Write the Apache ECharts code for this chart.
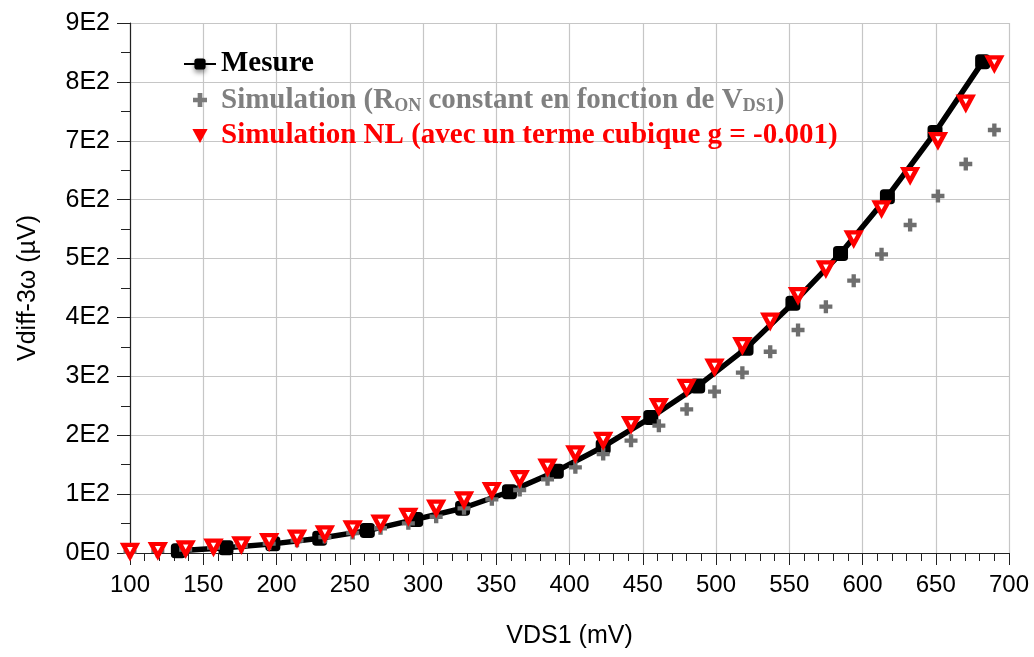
<!DOCTYPE html>
<html>
<head>
<meta charset="utf-8">
<script src="https://cdn.jsdelivr.net/npm/echarts@6/dist/echarts.min.js"></script>
<style>
  html, body { margin: 0; padding: 0; background: #ffffff; }
  #chart { width: 1034px; height: 657px; }
</style>
</head>
<body>
<div id="chart"></div>
<script>
// Measured third-harmonic differential voltage (µV) vs VDS1 (mV)
const mesureX = [133, 165.5, 197.5, 229.5, 262, 295, 327, 359, 391, 423, 455.5, 487.5, 520.5, 552.5, 585, 617, 649.5, 682];
const mesureY = [4, 9, 15.5, 25, 38, 57, 76, 104, 139, 180.5, 230, 283.5, 347.5, 424, 508.5, 605, 714, 834];

// Simulation sweep points (mV)
const simX = [100, 119, 138, 157, 176, 195, 214, 233, 252, 271, 290, 309, 328, 347, 366, 385,
              404, 423, 442, 461, 480, 499, 518, 537, 556, 575, 594, 613, 632.5, 651.5, 670.5, 690];
// Simulation with RON constant vs VDS1
const simRonY = [2, 3.5, 6, 9, 12, 16, 21, 27, 34, 42, 50.4, 61.6, 75.9, 91.2, 107, 125.1,
                 145.5, 168, 190.7, 216.2, 244, 273.9, 306.2, 341.8, 378.7, 418.3, 462.4, 507.2, 557, 606.2, 660.5, 718.3];
// Non-linear simulation (cubic term g = -0.001)
const simNLY = [3.6, 5.1, 8, 11, 14.7, 20, 26, 33.4, 41.9, 51.5, 63, 77, 91, 107, 127, 146.6,
                169.3, 192, 219, 249.6, 282, 316.4, 353, 394.5, 438, 483.4, 534.4, 585.3, 641.9, 701.3, 764.7, 831.5];

// Axis tick labels
const yTickLabels = ['0E0', '1E2', '2E2', '3E2', '4E2', '5E2', '6E2', '7E2', '8E2', '9E2'];
const xTickLabels = ['100', '150', '200', '250', '300', '350', '400', '450', '500', '550', '600', '650', '700'];

const zip = (xs, ys) => xs.map((x, i) => [x, ys[i]]);

const PLUS = 'path://M-1,-3H1V-1H3V1H1V3H-1V1H-3V-1H-1Z';
const TRI_DOWN = 'path://M0,0L12,0L6,10.4Z';

const chart = echarts.init(document.getElementById('chart'), null, { renderer: 'canvas' });

const axisFont = 'Liberation Sans, Arial, sans-serif';
const legendFont = 'Liberation Serif, Times New Roman, serif';

chart.setOption({
  animation: false,
  backgroundColor: '#ffffff',
  grid: { left: 130, right: 25, top: 23, bottom: 104, containLabel: false },
  xAxis: {
    type: 'value',
    min: 100, max: 700, interval: 50,
    name: 'VDS1 (mV)',
    nameLocation: 'middle',
    nameGap: 71,
    nameTextStyle: { fontFamily: axisFont, fontSize: 25, color: '#000' },
    axisLine: { show: true, onZero: false, lineStyle: { color: '#222', width: 1.2 } },
    axisTick: { show: true, inside: false, length: 12, lineStyle: { color: '#222' } },
    minorTick: { show: true, splitNumber: 5, length: 8, lineStyle: { color: '#222' } },
    axisLabel: {
      margin: 20, fontFamily: axisFont, fontSize: 24, color: '#000',
      formatter: v => xTickLabels[Math.round((v - 100) / 50)]
    },
    splitLine: { show: true, lineStyle: { color: '#c6c6c6', width: 1.2 } }
  },
  yAxis: {
    type: 'value',
    min: 0, max: 900, interval: 100,
    name: 'Vdiff-3ω (µV)',
    nameLocation: 'middle',
    nameGap: 89,
    nameTextStyle: { fontFamily: axisFont, fontSize: 25, color: '#000' },
    axisLine: { show: true, onZero: false, lineStyle: { color: '#222', width: 1.2 } },
    axisTick: { show: true, inside: false, length: 13, lineStyle: { color: '#222' } },
    minorTick: { show: true, splitNumber: 2, length: 9, lineStyle: { color: '#222' } },
    axisLabel: {
      margin: 20, fontFamily: axisFont, fontSize: 25, color: '#000',
      formatter: v => yTickLabels[Math.round(v / 100)]
    },
    splitLine: { show: true, lineStyle: { color: '#c6c6c6', width: 1.2 } }
  },
  legend: {
    orient: 'vertical',
    left: 178, top: 44,
    itemGap: 6,
    itemWidth: 32, itemHeight: 14,
    textStyle: {
      fontFamily: legendFont, fontSize: 29, fontWeight: 'bold', lineHeight: 30,
      rich: {
        g: { fontFamily: legendFont, fontSize: 29, fontWeight: 'bold', color: '#808080', lineHeight: 30, verticalAlign: 'bottom' },
        gs: { fontFamily: legendFont, fontSize: 18, fontWeight: 'bold', color: '#808080', lineHeight: 17, verticalAlign: 'bottom' }
      }
    },
    formatter: name => {
      if (name === 'simRon') {
        return '{g|Simulation (R}{gs|ON}{g| constant en fonction de V}{gs|DS1}{g|)}';
      }
      return name;
    },
    data: [
      { name: 'Mesure', textStyle: { color: '#000000' },
        itemStyle: { shadowBlur: 5, shadowColor: 'rgba(0,0,0,0.45)', shadowOffsetY: 3 } },
      { name: 'simRon', icon: PLUS, itemStyle: { color: '#7a7a7a' } },
      { name: 'Simulation NL (avec un terme cubique g = -0.001)', icon: 'path://M0,0L12,0L6,11Z',
        textStyle: { color: '#ff0000' }, itemStyle: { color: '#ff0000', borderWidth: 0 } }
    ]
  },
  series: [
    {
      name: 'Mesure',
      type: 'line',
      data: zip(mesureX, mesureY),
      symbol: 'roundRect',
      symbolSize: 15,
      showAllSymbol: true,
      lineStyle: { color: '#000', width: 5.5 },
      itemStyle: { color: '#000', borderColor: '#000', borderWidth: 0 },
      z: 2
    },
    {
      name: 'simRon',
      type: 'scatter',
      data: zip(simX, simRonY),
      symbol: PLUS,
      symbolSize: 13,
      itemStyle: { color: '#6e6e6e', opacity: 1 },
      z: 3
    },
    {
      name: 'Simulation NL (avec un terme cubique g = -0.001)',
      type: 'scatter',
      data: zip(simX, simNLY),
      symbol: TRI_DOWN,
      symbolSize: [13, 12],
      itemStyle: { color: '#ffffff', borderColor: '#ff0000', borderWidth: 4.4, opacity: 1 },
      z: 4
    }
  ]
});
</script>
</body>
</html>
